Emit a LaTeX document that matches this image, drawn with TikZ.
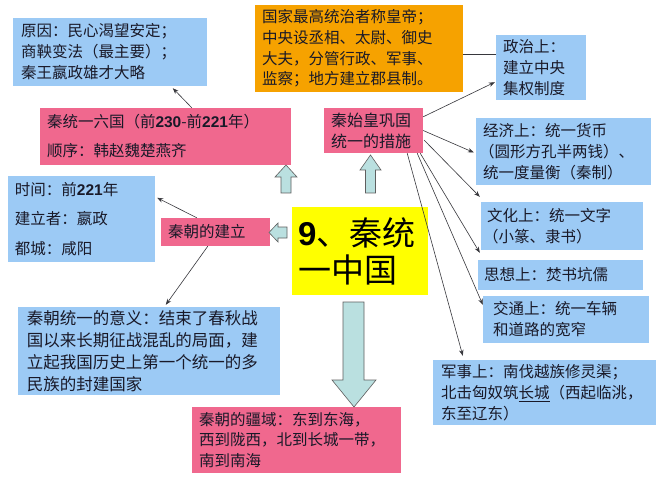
\documentclass[tikz,border=0pt]{standalone}
\usepackage{fontspec}
\setmainfont{Noto Sans CJK SC}
\newfontfamily\latinfont{Liberation Sans}
\usepackage{tikz}
\usetikzlibrary{calc,arrows.meta}
\definecolor{boxblue}{RGB}{156,202,245}
\definecolor{boxpink}{RGB}{240,104,142}
\definecolor{boxorange}{RGB}{246,162,0}
\definecolor{boxyellow}{RGB}{255,255,0}
\definecolor{arrowfill}{RGB}{186,224,224}
\definecolor{arrowline}{RGB}{95,95,95}
\definecolor{linegray}{RGB}{55,55,60}
\definecolor{inktext}{RGB}{25,25,40}
\newcommand\latinb[1]{{\latinfont\bfseries #1}}
\tikzset{
	card/.style={inner xsep=7pt, inner ysep=0pt, align=left, text=inktext},
	bluecard/.style={card, fill=boxblue},
	pinkcard/.style={card, fill=boxpink},
	conn/.style={->, draw=linegray, line width=0.6pt},
	blockarrow/.style={fill=arrowfill, draw=arrowline, line width=0.6pt, line join=miter}
}

\begin{document}
\begin{tikzpicture}[x=1pt, y=-1pt, >={Stealth[length=6pt,width=4.5pt]}, font=\fontsize{15.5}{21}\selectfont]
		\useasboundingbox[fill=white] (0,0) rectangle (667,500);
		% left column
		\node[bluecard, text width=178pt, minimum height=68pt, inner xsep=8pt] (cause) at (110,52) {原因：民心渴望安定；\\商鞅变法（最主要）；\\秦王嬴政雄才大略};
		\node[pinkcard, text width=237pt, minimum height=57pt, font=\fontsize{15.5}{29}\selectfont] (unify) at (165.5,136.5) {秦统一六国（前\latinb{230}-前\latinb{221}年）\\顺序：韩赵魏楚燕齐};
		\node[bluecard, text width=133pt, minimum height=86pt, font=\fontsize{15.5}{29.5}\selectfont] (time) at (81.5,219) {时间：前\latinb{221}年\\建立者：嬴政\\都城：咸阳};
		\node[pinkcard, text width=95pt, minimum height=28pt] (found) at (215.5,232) {秦朝的建立};
		\node[bluecard, text width=244pt, minimum height=88pt, inner xsep=9pt, font=\fontsize{16.5}{22}\selectfont] (meaning) at (149,351) {秦朝统一的意义：结束了春秋战\\国以来长期征战混乱的局面，建\\立起我国历史上第一个统一的多\\民族的封建国家};
		% middle column
		\node[card, fill=boxorange, text width=194pt, minimum height=87pt, font=\fontsize{15.5}{20.7}\selectfont] (ruler) at (359,48.5) {国家最高统治者称皇帝；\\中央设丞相、太尉、御史\\大夫，分管行政、军事、\\监察；地方建立郡县制。};
		\node[pinkcard, text width=85pt, minimum height=45pt, font=\fontsize{16}{21}\selectfont] (measure) at (373.5,130.5) {秦始皇巩固\\统一的措施};
		\node[card, fill=boxyellow, text width=124pt, minimum height=88pt, inner xsep=6pt, font=\fontsize{33}{37}\selectfont, text=black] (title) at (360,251) {\latinb{9}、秦统\\一中国};
		\node[pinkcard, text width=195pt, minimum height=66pt, font=\fontsize{15.5}{20.5}\selectfont] (territory) at (296.5,440) {秦朝的疆域：东到东海，\\西到陇西，北到长城一带，\\南到南海};
		% right column
		\node[bluecard, text width=76pt, minimum height=65pt] (politics) at (541,67.5) {政治上：\\建立中央\\集权制度};
		\node[bluecard, text width=161pt, minimum height=67pt, inner xsep=7pt] (economy) at (563.5,151.5) {经济上：统一货币\\\hspace*{-4pt}（圆形方孔半两钱）、\\统一度量衡（秦制）};
		\node[bluecard, text width=150pt, minimum height=48pt, inner xsep=6pt] (culture) at (562,226) {文化上：统一文字\\\hspace*{-4pt}（小篆、隶书）};
		\node[bluecard, text width=153pt, minimum height=30pt, inner xsep=6pt] (thought) at (560.5,275) {思想上：焚书坑儒};
		\node[bluecard, text width=146pt, minimum height=47pt, inner xsep=10pt] (transport) at (566,319.5) {交通上：统一车辆\\和道路的宽窄};
		\node[bluecard, text width=207pt, minimum height=65pt, inner xsep=8pt] (military) at (544.5,392.5) {军事上：南伐越族修灵渠；\\北击匈奴筑\underline{长城}（西起临洮，\\东至辽东）};
		% block arrows
		\draw[blockarrow] (281,193) -- (281,177) -- (275,177) -- (286,165) -- (297,177) -- (291,177) -- (291,193) -- cycle;
		\draw[blockarrow] (365.5,193) -- (365.5,170) -- (360,170) -- (370.5,155) -- (381,170) -- (375.5,170) -- (375.5,193) -- cycle;
		\draw[blockarrow] (287,227) -- (278,227) -- (278,223) -- (269,232.5) -- (278,242) -- (278,238) -- (287,238) -- cycle;
		\draw[blockarrow] (343,302) -- (364,302) -- (364,380) -- (376,380) -- (354,407) -- (332,380) -- (343,380) -- cycle;
		% connectors
		\draw[conn] ($(unify.north west)+(152,0)$) -- ($(cause.south west)+(160,2)$);
		\draw[conn] ($(found.north west)+(36,0)$) -- ($(time.north east)+(2,22)$);
		\draw[conn] ($(found.south west)+(47,0)$) -- ($(meaning.north west)+(148,-2)$);
		\draw[draw=linegray, line width=0.6pt] ($(ruler.north east)+(0,50)$) -- ($(politics.north west)+(0,20)$);
		\draw[conn] ($(measure.north east)+(0,9)$) -- ($(politics.south west)+(-1,-18)$);
		\draw[conn] (measure.east) -- ($(economy.west)+(-2,1)$);
		\draw[conn] ($(measure.south east)+(1,-13)$) -- ($(culture.north west)+(-1,-5)$);
		\draw[conn] ($(measure.south east)+(-3,0)$) -- ($(thought.north west)+(2,-7)$);
		\draw[conn] ($(measure.south east)+(-6,0)$) -- ($(transport.north west)+(0,9)$);
		\draw[conn] ($(measure.south east)+(-16,0)$) -- ($(military.north west)+(30,-4)$);
	\end{tikzpicture}
\end{document}
